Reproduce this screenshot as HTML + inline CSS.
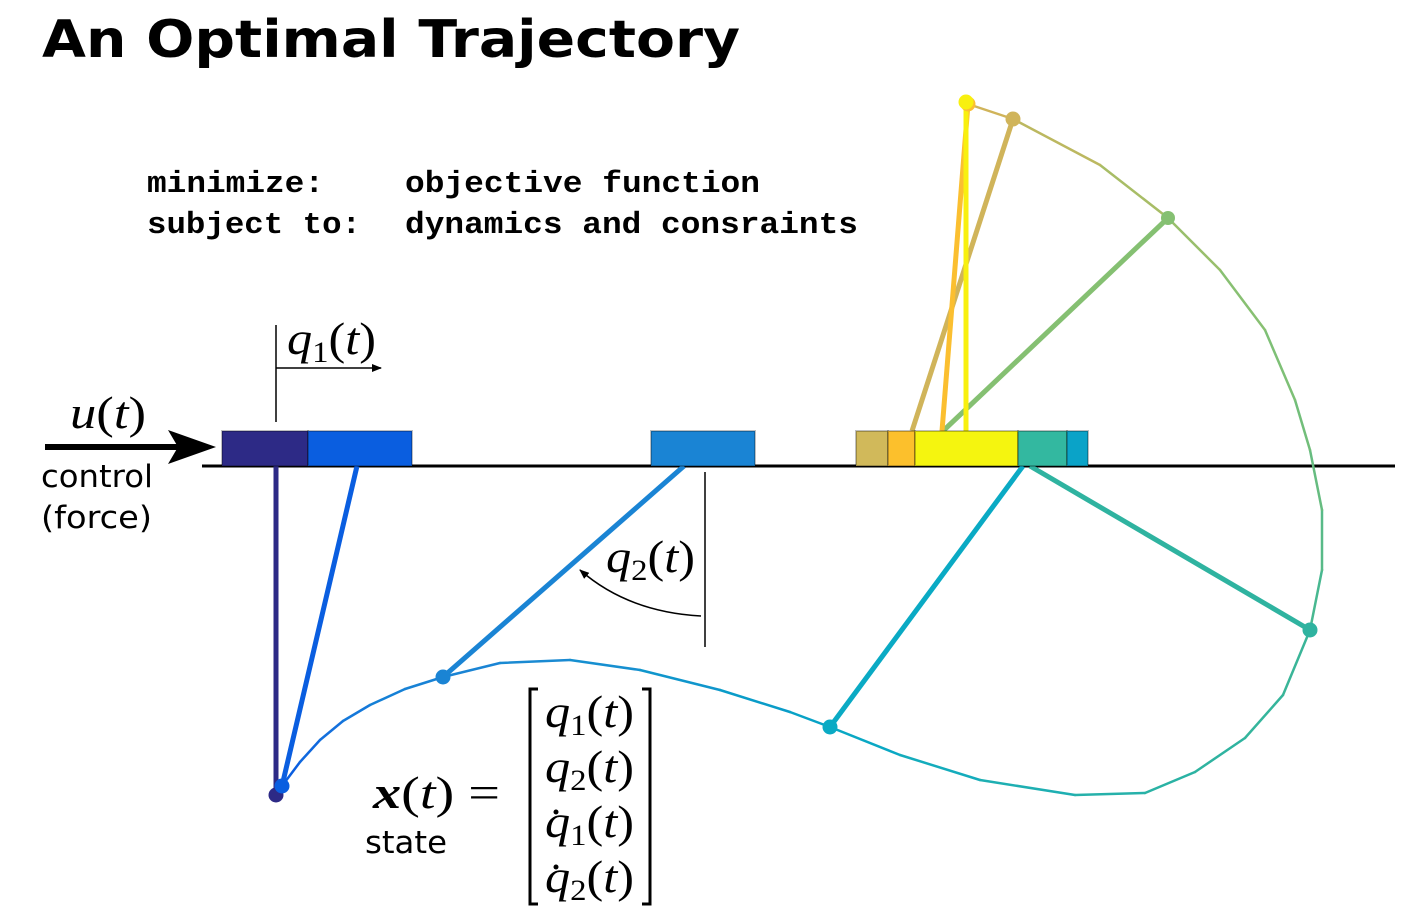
<!DOCTYPE html>
<html><head><meta charset="utf-8"><style>
html,body{margin:0;padding:0;background:#fff;width:1417px;height:921px;overflow:hidden}
svg{display:block}
.m{font-family:"Liberation Mono",monospace;font-weight:bold;font-size:31px}
.ms{font-family:"Liberation Serif",serif;font-style:italic;font-size:46px}
.sn{font-family:"DejaVu Sans","Liberation Sans",sans-serif;font-size:31px}
</style></head><body>
<svg id="fig" width="1417" height="921" viewBox="0 0 1417 921">
<defs>
<marker id="ah" markerWidth="10" markerHeight="8" refX="9" refY="4" orient="auto" markerUnits="userSpaceOnUse"><path d="M0,0 L10,4 L0,8 Z" fill="#000"/></marker>
</defs>
<text x="42" y="57" font-family="DejaVu Sans,sans-serif" font-weight="bold" font-size="52" textLength="698" lengthAdjust="spacingAndGlyphs">An Optimal Trajectory</text>
<g>
<text class="m" x="147" y="192" textLength="177" lengthAdjust="spacingAndGlyphs">minimize:</text>
<text class="m" x="405" y="192" textLength="355" lengthAdjust="spacingAndGlyphs">objective function</text>
<text class="m" x="147" y="233" textLength="214" lengthAdjust="spacingAndGlyphs">subject to:</text>
<text class="m" x="405" y="233" textLength="453" lengthAdjust="spacingAndGlyphs">dynamics and consraints</text>
</g>
<line x1="202" y1="466" x2="1395" y2="466" stroke="#000" stroke-width="3"/>
<g id="traj"></g>
<g id="poles"></g>
<g id="carts"></g>
<g id="bobs"></g>
<g>
<line x1="276" y1="325" x2="276" y2="422" stroke="#000" stroke-width="1.5"/>
<line x1="276" y1="368" x2="381" y2="368" stroke="#000" stroke-width="1.5" marker-end="url(#ah)"/>
<text class="ms" x="287" y="354" textLength="89" lengthAdjust="spacingAndGlyphs">q<tspan font-style="normal" font-size="30" dy="8">1</tspan><tspan font-style="normal" dy="-8">(</tspan>t<tspan font-style="normal">)</tspan></text>
</g>
<g>
<line x1="45" y1="447" x2="190" y2="447" stroke="#000" stroke-width="6"/>
<path d="M168,430 L216,447 L168,464 L178,447 Z" fill="#000"/>
<text class="ms" x="70" y="428" textLength="76" lengthAdjust="spacingAndGlyphs">u<tspan font-style="normal">(</tspan>t<tspan font-style="normal">)</tspan></text>
<text class="sn" x="41" y="487" textLength="112" lengthAdjust="spacingAndGlyphs">control</text>
<text class="sn" x="41" y="528" textLength="111" lengthAdjust="spacingAndGlyphs">(force)</text>
</g>
<g>
<line x1="705" y1="472" x2="705" y2="647" stroke="#000" stroke-width="1.5"/>
<path d="M701,616 Q628,612 580,570" fill="none" stroke="#000" stroke-width="1.5" marker-end="url(#ah)"/>
<text class="ms" x="606" y="572" textLength="89" lengthAdjust="spacingAndGlyphs">q<tspan font-style="normal" font-size="30" dy="8">2</tspan><tspan font-style="normal" dy="-8">(</tspan>t<tspan font-style="normal">)</tspan></text>
</g>
<g>
<text class="ms" x="373" y="808" font-weight="bold" textLength="127" lengthAdjust="spacingAndGlyphs">x<tspan font-weight="normal" font-style="normal">(</tspan><tspan font-weight="normal">t</tspan><tspan font-weight="normal" font-style="normal">) =</tspan></text>
<text class="sn" x="365" y="853" textLength="82" lengthAdjust="spacingAndGlyphs">state</text>
<path d="M538,689 L530,689 L530,904 L538,904" fill="none" stroke="#000" stroke-width="3"/>
<path d="M642,689 L650,689 L650,904 L642,904" fill="none" stroke="#000" stroke-width="3"/>
<text class="ms" x="545" y="727" textLength="89" lengthAdjust="spacingAndGlyphs">q<tspan font-style="normal" font-size="30" dy="8">1</tspan><tspan font-style="normal" dy="-8">(</tspan>t<tspan font-style="normal">)</tspan></text>
<text class="ms" x="545" y="782" textLength="89" lengthAdjust="spacingAndGlyphs">q<tspan font-style="normal" font-size="30" dy="8">2</tspan><tspan font-style="normal" dy="-8">(</tspan>t<tspan font-style="normal">)</tspan></text>
<text class="ms" x="545" y="837" textLength="89" lengthAdjust="spacingAndGlyphs">q<tspan font-style="normal" font-size="30" dy="8">1</tspan><tspan font-style="normal" dy="-8">(</tspan>t<tspan font-style="normal">)</tspan></text>
<text class="ms" x="545" y="892" textLength="89" lengthAdjust="spacingAndGlyphs">q<tspan font-style="normal" font-size="30" dy="8">2</tspan><tspan font-style="normal" dy="-8">(</tspan>t<tspan font-style="normal">)</tspan></text>
<circle cx="556" cy="812" r="2.5" fill="#000"/>
<circle cx="556" cy="867" r="2.5" fill="#000"/>
</g>
</svg>
<script>
const NS="http://www.w3.org/2000/svg";
// trajectory of pendulum tip
const trajX=[276,282,300,320,343,370,405,443,500,570,640,720,790,830,900,980,1075,1145,1195,1245,1283,1310,1322,1322,1310,1295,1265,1220,1168,1100,1013,968];
const trajY=[795,786,762,740,721,705,689,677,663,660,670,690,712,727,755,780,795,793,772,738,695,630,570,510,450,400,330,270,218,165,119,104];
const trajC=["#2d2a86","#0a5ee0","#1068de","#1470dc","#1478da","#1580d6","#1882d5","#1a84d4","#1a8ad2","#168fd0","#1096cc","#0a9cc8","#08a2c6","#0aa8c4","#14acbc","#1eafb2","#26b1aa","#2ab2a4","#2fb3a0","#35b59c","#3ab598","#48b890","#58ba88","#66bc80","#72be7a","#7ec076","#88c072","#99bf6c","#a8bd66","#bcb860","#d0b45a"];
const cartL=[222,308,651,856,888,915,1018,1067];
const cartR=[308,412,755,888,915,1018,1067,1088];
const cartCol=["#2d2a86","#0a5ee0","#1a84d4","#d1b95a","#fcc02c","#f5f50f","#33b8a0","#0aa3c8"];
const pivX=[276,357,684,912,942,966,1030,1023];
const pivY=[466,466,466,431,431,431,466,466];
const bobX=[276,282,443,1013,968,966,1310,830];
const bobY=[795,786,677,119,104,102,630,727];
const poleCol=["#2d2a86","#0a5ee0","#1a84d4","#d0b45a","#fbbf30","#f8f00f","#2fb3a0","#0aaac4"];
const extraPivX=[943], extraPivY=[431], extraBobX=[1168], extraBobY=[218], extraCol=["#85c072"];
function mk(tag,attrs,parent){const e=document.createElementNS(NS,tag);for(const k in attrs)e.setAttribute(k,attrs[k]);parent.appendChild(e);return e;}
const traj=document.getElementById('traj');
for(let i=0;i<trajX.length-1;i++){
 const l=mk('line',{x1:trajX[i],y1:trajY[i],x2:trajX[i+1],y2:trajY[i+1],stroke:trajC[i],'stroke-width':2.5,'stroke-linecap':'round'},traj);
 
 
}
const poles=document.getElementById('poles'),bobs=document.getElementById('bobs'),carts=document.getElementById('carts');
for(let j=0;j<extraPivX.length;j++){
 const p=mk('line',{x1:extraPivX[j],y1:extraPivY[j],x2:extraBobX[j],y2:extraBobY[j],stroke:extraCol[j],'stroke-width':5},poles);
 
 
 const b=mk('circle',{cx:extraBobX[j],cy:extraBobY[j],r:7,fill:extraCol[j]},bobs);
 
 
}
for(let i=0;i<cartL.length;i++){
 const p=mk('line',{x1:pivX[i],y1:pivY[i],x2:bobX[i],y2:bobY[i],stroke:poleCol[i],'stroke-width':5},poles);
 
 
 const b=mk('circle',{cx:bobX[i],cy:bobY[i],r:7.5,fill:poleCol[i]},bobs);
 
 
}
for(let i=0;i<cartL.length;i++){
 const c=mk('rect',{x:cartL[i],y:431,width:cartR[i]-cartL[i],height:35,fill:cartCol[i],stroke:'rgba(0,0,0,0.25)','stroke-width':2},carts);
 
 
}
</script>
</body></html>
